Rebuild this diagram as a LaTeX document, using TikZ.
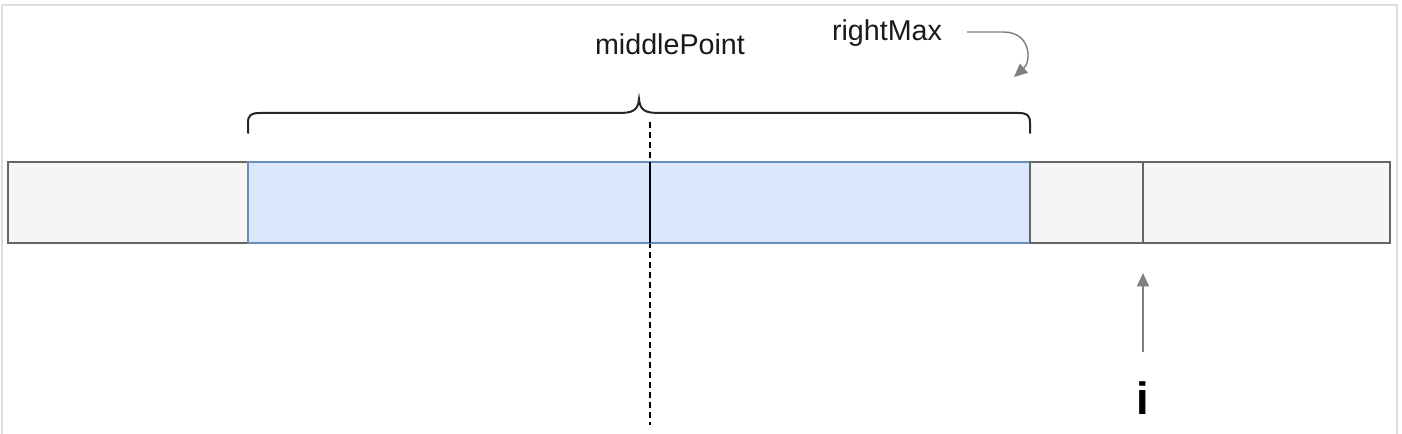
\documentclass[tikz,border=0pt]{standalone}
\usepackage{fontspec}
\setmainfont{Liberation Sans}
\usetikzlibrary{arrows.meta}
\definecolor{cellgray}{HTML}{F5F5F5}
\definecolor{cellgraystroke}{HTML}{666666}
\definecolor{cellblue}{HTML}{DAE8FC}
\definecolor{cellbluestroke}{HTML}{6C8EBF}
\definecolor{framegray}{HTML}{DEDEDE}
\definecolor{arrowgray}{HTML}{808080}
\definecolor{txt}{HTML}{1A1A1A}
\begin{document}
\begin{tikzpicture}[x=0.75pt,y=-0.75pt,
  cell/.style={line width=1.1pt, minimum height=60.75pt, inner sep=0pt, outer sep=0pt, anchor=north west},
  graycell/.style={cell, draw=cellgraystroke, fill=cellgray},
  bluecell/.style={cell, draw=cellbluestroke, fill=cellblue},
  label/.style={font=\fontsize{21.5}{26}\selectfont, text=txt, inner sep=0pt},
  pointer/.style={arrowgray, line width=1.1pt},
  framelin/.style={framegray, line width=1.5pt}]
\useasboundingbox (0,0) rectangle (1402,434);
% frame
\draw[framelin] (2,434) -- (2,5) -- (1397,5) -- (1397,434);
% dashed middle line
\coordinate (dashTop) at (650,122);
\coordinate (dashBot) at (650,425);
\draw[black, line width=1.1pt, dash pattern=on 4.5pt off 3pt] (dashTop) -- (dashBot);
% cells
\node[graycell, minimum width=180pt] (left) at (8,162) {};
\node[bluecell, minimum width=301.5pt] (blueL) at (248,162) {};
\node[bluecell, minimum width=285pt] (blueR) at (650,162) {};
\node[graycell, minimum width=84.75pt] (g1) at (1030,162) {};
\node[graycell, minimum width=185.25pt] (g2) at (1143,162) {};
\draw[black, line width=1.3pt] (blueL.north east) -- (blueL.south east);
\draw[cellgraystroke, line width=1.8pt] (g1.north east) -- (g1.south east);
% brace
\draw[black!85, line width=1.5pt, line cap=round]
  (248,133) -- (248,123) .. controls (248,115) and (251,113) .. (260,113)
  -- (618,113) .. controls (632,113) and (638,111) .. (639,99)
  .. controls (640,111) and (646,113) .. (660,113)
  -- (1018,113) .. controls (1027,113) and (1030,115) .. (1030,123) -- (1030,133);
% labels
\node[label] (mp) at (670,44) {middlePoint};
\node[label] (rm) at (887,33) {rightMax};
\coordinate (rmStart) at (967,32);
\coordinate (rmEnd) at (1014,77);
\draw[pointer, -{Triangle[length=10pt,width=9pt]}]
  (rmStart) -- (1003,32) .. controls (1032,32) and (1031,62) .. (rmEnd);
% i pointer
\node[font=\fontsize{34}{40}\selectfont\bfseries, text=black, inner sep=0pt] (ilab) at (1143,398) {i};
\coordinate (iStart) at (1143,352);
\coordinate (iTip) at (1143,273);
\draw[pointer, -{Triangle[length=10pt,width=9pt]}] (iStart) -- (iTip);
\end{tikzpicture}
\end{document}
